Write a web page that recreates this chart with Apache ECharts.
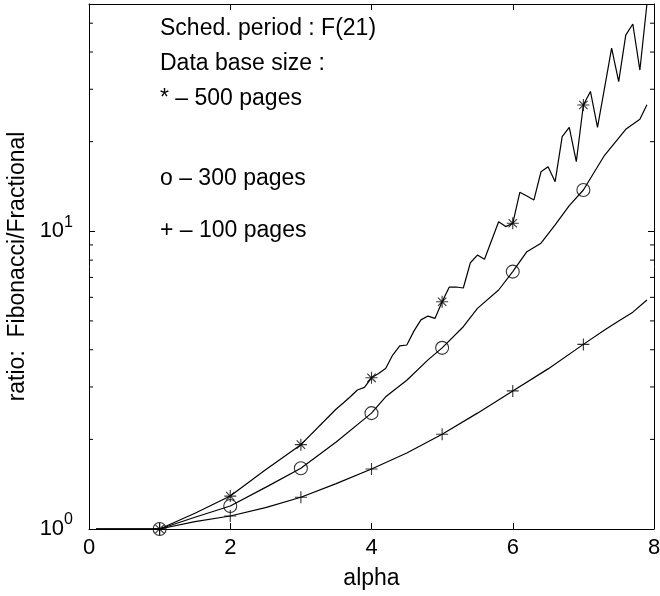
<!DOCTYPE html>
<html>
<head>
<meta charset="utf-8">
<script src="https://cdn.jsdelivr.net/npm/echarts@6/dist/echarts.min.js"></script>
<style>
  html, body { margin: 0; padding: 0; background: #fff; }
  #chart { width: 660px; height: 596px; }
</style>
</head>
<body>
<div id="chart"></div>
<script>
// 500 pages (the jagged one)
const alpha500 = [0.1, 0.5, 1.0, 1.5, 2.0, 2.5, 3.0, 3.5, 3.6, 3.7, 3.8, 3.9,
  4.0, 4.1, 4.2, 4.3, 4.4, 4.5, 4.6, 4.7, 4.8, 4.9,
  5.0, 5.1, 5.2, 5.3, 5.4, 5.5, 5.6, 5.7, 5.8, 5.9,
  6.0, 6.1, 6.2, 6.3, 6.4, 6.5, 6.6, 6.7, 6.8, 6.9,
  7.0, 7.1, 7.2, 7.3, 7.4, 7.5, 7.6, 7.7, 7.8, 7.9]
const ratio500 = [1.0, 1.0, 1.0, 1.13, 1.29, 1.58, 1.92, 2.53, 2.65, 2.78, 2.93, 2.99,
  3.22, 3.33, 3.46, 3.84, 4.12, 4.15, 4.62, 5.04, 5.19, 5.10,
  5.80, 6.49, 6.50, 6.45, 7.84, 8.32, 8.05, 9.31, 10.77, 10.37,
  10.64, 13.52, 13.14, 12.74, 15.85, 16.48, 14.68, 20.78, 22.35, 17.13,
  26.56, 29.5, 22.35, 30.3, 41.2, 31.8, 45.6, 49.7, 34.8, 58]

// 300 pages
const alpha300 = [0.1, 0.5, 1.0, 1.5, 2.0, 2.5, 3.0, 3.5, 4.0, 4.2, 4.5, 4.8,
  5.0, 5.3, 5.5, 5.8, 6.0, 6.2, 6.4, 6.6, 6.8, 7.0, 7.3, 7.6, 7.8, 7.9]
const ratio300 = [1.0, 1.0, 1.0, 1.095, 1.195, 1.38, 1.60, 1.96, 2.45, 2.78, 3.16, 3.70,
  4.06, 4.78, 5.51, 6.35, 7.32, 8.54, 9.12, 10.5, 12.2, 13.76, 18.0, 22.0, 23.8, 26.6]

// 100 pages
const alpha100 = [0.1, 0.5, 1.0, 1.5, 2.0, 2.5, 3.0, 3.5, 4.0, 4.5, 5.0, 5.5,
  6.0, 6.5, 7.0, 7.3, 7.5, 7.7, 7.9]
const ratio100 = [1.0, 1.0, 1.0, 1.058, 1.106, 1.18, 1.278, 1.42, 1.59, 1.80, 2.08, 2.45,
  2.91, 3.45, 4.17, 4.66, 5.0, 5.35, 5.88]

const xTicks = [0, 2, 4, 6, 8]
const yMinorTicks = [2, 3, 4, 5, 6, 7, 8, 9, 20, 30, 40, 50]
const noteLines = ['Sched. period : F(21)', 'Data base size :', '* \u2013 500 pages', 'o \u2013 300 pages', '+ \u2013 100 pages']

const FONT = '"Liberation Sans", Arial, Helvetica, sans-serif'
const STAR = 'path://M5,0L5,10M0,5L10,5M1.5,1.5L8.5,8.5M1.5,8.5L8.5,1.5'
const PLUS = 'path://M5,0L5,10M0,5L10,5'

function pairs(xs, ys) {
  return xs.map((x, i) => [x, ys[i]])
}
// markers only sit on whole alpha values 1..7
function marks(xs, ys) {
  return pairs(xs, ys).filter(p => Number.isInteger(p[0]) && p[0] >= 1 && p[0] <= 7)
}

function lineSeries(name, data) {
  return {
    name: name,
    type: 'line',
    data: data,
    symbol: 'none',
    lineStyle: { color: '#000', width: 1.2 },
    z: 3,
  }
}

function markSeries(name, data, symbol, size) {
  return {
    name: name,
    type: 'scatter',
    data: data,
    symbol: symbol,
    symbolSize: size,
    itemStyle: { color: 'transparent', borderColor: '#000', borderWidth: 1.1 },
    z: 4,
  }
}

const chart = echarts.init(document.getElementById('chart'))

const sideAxisX = {
  type: 'value',
  min: xTicks[0],
  max: xTicks[xTicks.length - 1],
  interval: 2,
  axisLine: { show: true, onZero: false, lineStyle: { color: '#000', width: 1 } },
  axisTick: { show: true, inside: true, length: 6, lineStyle: { color: '#000' } },
  splitLine: { show: false },
}

const sideAxisY = {
  type: 'log',
  logBase: 10,
  min: 1,
  max: 58,
  axisLine: { show: true, onZero: false, lineStyle: { color: '#000', width: 1 } },
  axisTick: { show: true, inside: true, length: 6, lineStyle: { color: '#000' } },
  splitLine: { show: false },
}

const option = {
  animation: false,
  backgroundColor: '#fff',
  grid: { left: 89, top: 4, right: 6, bottom: 67, outerBoundsMode: 'none' },
  xAxis: [
    Object.assign({}, sideAxisX, {
      position: 'bottom',
      axisLabel: { fontSize: 22, color: '#000', fontFamily: FONT, margin: 8 },
      name: 'alpha',
      nameLocation: 'middle',
      nameGap: 38,
      nameTextStyle: { fontSize: 23, color: '#000', fontFamily: FONT },
    }),
    Object.assign({}, sideAxisX, { position: 'top', axisLabel: { show: false } }),
  ],
  yAxis: [
    Object.assign({}, sideAxisY, {
      position: 'left',
      axisLabel: {
        color: '#000',
        margin: 16,
        formatter: v => {
          const e = Math.log10(v)
          if (Math.abs(e - Math.round(e)) > 1e-6) return ''
          return '{b|10}{s|' + Math.round(e) + '}'
        },
        rich: {
          b: { fontSize: 22, lineHeight: 34, fontFamily: FONT, color: '#000' },
          s: { fontSize: 16, lineHeight: 16, verticalAlign: 'top', fontFamily: FONT, color: '#000' },
        },
      },
      name: 'ratio:  Fibonacci/Fractional',
      nameLocation: 'middle',
      nameGap: 50,
      nameTextStyle: { fontSize: 23, color: '#000', fontFamily: FONT },
    }),
    Object.assign({}, sideAxisY, { position: 'right', axisLabel: { show: false } }),
  ],
  graphic: noteLines.map((t, i) => ({
    type: 'text',
    x: 160,
    y: [29, 64, 99, 179, 231][i],
    style: { text: t, fill: '#000', font: '23px ' + FONT, verticalAlign: 'middle' },
  })),
  series: [
    lineSeries('500 pages', pairs(alpha500, ratio500)),
    lineSeries('300 pages', pairs(alpha300, ratio300)),
    lineSeries('100 pages', pairs(alpha100, ratio100)),
    markSeries('500 pages', marks(alpha500, ratio500), STAR, 12),
    markSeries('300 pages', marks(alpha300, ratio300), 'circle', 13),
    markSeries('100 pages', marks(alpha100, ratio100), PLUS, 12),
    {
      // minor log ticks on both sides of the box
      type: 'custom',
      silent: true,
      clip: false,
      data: yMinorTicks.map(v => [0, v]),
      renderItem: (params, api) => {
        const cs = params.coordSys
        const y = api.coord([0, api.value(1)])[1]
        const st = { stroke: '#000', lineWidth: 1 }
        return {
          type: 'group',
          children: [
            { type: 'line', shape: { x1: cs.x, y1: y, x2: cs.x + 4, y2: y }, style: st },
            { type: 'line', shape: { x1: cs.x + cs.width - 4, y1: y, x2: cs.x + cs.width, y2: y }, style: st },
          ],
        }
      },
    },
  ],
}

chart.setOption(option)
</script>
</body>
</html>
